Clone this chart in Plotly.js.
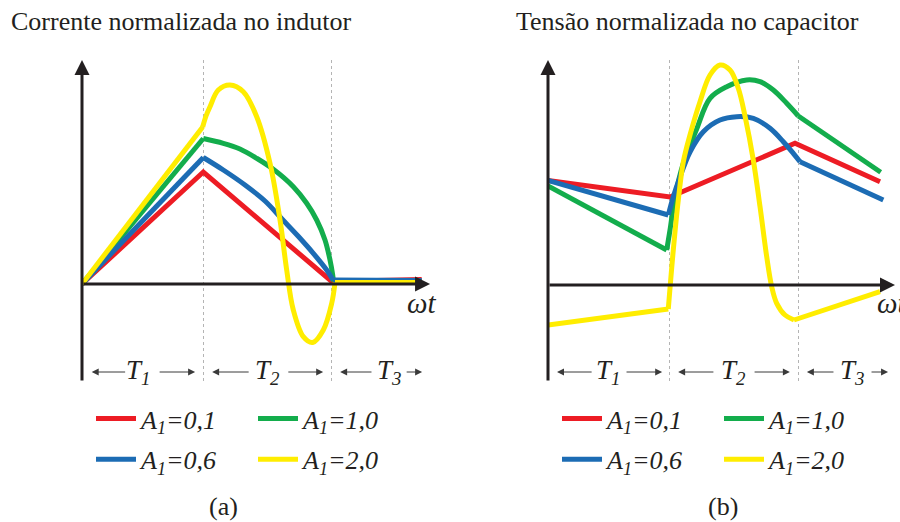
<!DOCTYPE html>
<html><head><meta charset="utf-8">
<script src="https://cdn.plot.ly/plotly-3.0.1.min.js"></script>
<style>html,body{margin:0;padding:0;background:#fff}#chart{width:900px;height:522px}</style>
</head><body>
<div id="chart"></div>
<script>
// ---------- series names / colours ----------
const seriesNames = ['<i>A<sub>1</sub>=0,1</i>', '<i>A<sub>1</sub>=0,6</i>', '<i>A<sub>1</sub>=1,0</i>', '<i>A<sub>1</sub>=2,0</i>'];
const seriesColors = ['#ED1C24', '#1C6CB4', '#13AD4C', '#FFED00'];

// interval boundaries (ωt) and labels
const boundsA = [3.5, 7.2];
const boundsB = [3.49, 7.23];
const intervalLabels = ['<i>T<sub>1</sub></i>', '<i>T<sub>2</sub></i>', '<i>T<sub>3</sub></i>'];
const labelXA = [1.62, 5.35, 8.87];
const labelXB = [1.73, 5.36, 8.76];
// arrow pairs [tail, head] for each interval label
const arrowsA = [[1.29, 0.28], [2.20, 3.27], [4.86, 3.76], [5.92, 6.97], [8.41, 7.46], [9.34, 9.83]];
const arrowsB = [[1.30, 0.26], [2.22, 3.29], [4.81, 3.75], [5.91, 6.97], [8.27, 7.46], [9.28, 9.80]];

// ---------- panel (a): normalised inductor current ----------
const aX_01 = [0, 3.506, 7.217, 9.818];
const aY_01 = [0, 1.12, 0.025, 0.045];
const aX_06 = [0, 3.506, null, 7.254, 9.818];
const aY_06 = [0, 1.265, null, 0.04, 0.035];
const aX_06c = [3.506, 4.084, 4.711, 5.289, 5.780, 6.243, 6.685, 7.072, 7.254];
const aY_06c = [1.265, 1.14, 0.99, 0.83, 0.65, 0.48, 0.307, 0.14, 0.04];
const aX_10 = [0, 3.506, null, 7.269, 9.818];
const aY_10 = [0, 1.455, null, 0.025, 0.025];
const aX_10c = [3.506, 4.084, 4.566, 5.049, 5.520, 6.108, 6.494, 6.783, 7.023, 7.168, 7.246, 7.269];
const aY_10c = [1.455, 1.407, 1.35, 1.257, 1.15, 0.973, 0.807, 0.64, 0.44, 0.24, 0.09, 0.025];
const aX_20 = [0, 3.488, null, 7.312, 9.818];
const aY_20 = [0, 1.57, null, 0.015, 0.015];
const aX_20c = [3.488, 3.584, 3.699, 3.939, 4.277, 4.662, 5.049, 5.434, 5.723, 5.916, 6.107, 6.396, 6.668, 6.974, 7.217, 7.312];
const aY_20c = [1.57, 1.68, 1.773, 1.94, 1.99, 1.923, 1.673, 1.207, 0.64, 0.14, -0.26, -0.527, -0.585, -0.46, -0.193, 0.015];

// ---------- panel (b): normalised capacitor voltage ----------
const bX_01 = [0, 3.516, 7.118, 9.568];
const bY_01 = [1.045, 0.88, 1.417, 1.033];
const bX_06 = [0, 3.467, null, 7.262, 9.663];
const bY_06 = [1.045, 0.70, null, 1.233, 0.85];
const bX_06c = [3.467, 3.611, 3.804, 4.092, 4.476, 4.957, 5.438, 5.916, 6.398, 6.781, 7.069, 7.262];
const bY_06c = [0.70, 0.883, 1.08, 1.33, 1.533, 1.65, 1.683, 1.667, 1.567, 1.433, 1.317, 1.233];
const bX_10 = [0, 3.421, null, 7.213, 9.588];
const bY_10 = [0.99, 0.35, null, 1.69, 1.127];
const bX_10c = [3.421, 3.516, 3.660, 3.899, 4.285, 4.669, 5.150, 5.726, 6.110, 6.493, 6.879, 7.213];
const bY_10c = [0.35, 0.55, 0.88, 1.217, 1.56, 1.867, 1.983, 2.05, 2.033, 1.95, 1.817, 1.69];
const bX_20 = [0, 3.467, null, 7.089, 9.568];
const bY_20 = [-0.40, -0.24, null, -0.35, -0.067];
const bX_20c = [3.467, 3.611, 3.755, 3.899, 4.092, 4.380, 4.669, 4.957, 5.245, 5.484, 5.677, 5.916, 6.110, 6.303, 6.447, 6.591, 6.830, 7.089];
const bY_20c = [-0.24, 0.35, 0.85, 1.23, 1.50, 1.833, 2.10, 2.20, 2.15, 1.967, 1.69, 1.25, 0.783, 0.283, -0.017, -0.183, -0.30, -0.35];

const SERIF = 'Liberation Serif';
const INK = '#231F20';

const panelA = [[aX_01, aY_01, null, null], [aX_06, aY_06, aX_06c, aY_06c], [aX_10, aY_10, aX_10c, aY_10c], [aX_20, aY_20, aX_20c, aY_20c]];
const panelB = [[bX_01, bY_01, null, null], [bX_06, bY_06, bX_06c, bY_06c], [bX_10, bY_10, bX_10c, bY_10c], [bX_20, bY_20, bX_20c, bY_20c]];
const drawOrder = [0, 2, 1, 3];
const legendCol = [0, 0, 1, 1];
const legendRank = [1, 2, 1, 2];

const traces = [];
[[panelA, 'x', 'y', ['legend', 'legend2']], [panelB, 'x2', 'y2', ['legend3', 'legend4']]].forEach(([panel, xa, ya, legs], p) => {
  drawOrder.forEach(i => {
    const s = panel[i];
    const common = {type: 'scatter', mode: 'lines', xaxis: xa, yaxis: ya, name: seriesNames[i],
      cliponaxis: false, legend: legs[legendCol[i]], legendrank: legendRank[i],
      legendgroup: 'g' + p + '_' + i, hoverinfo: 'skip'};
    traces.push(Object.assign({}, common, {x: s[0], y: s[1], connectgaps: false,
      line: {color: seriesColors[i], width: 5, shape: 'linear'}, showlegend: true}));
    if (s[2]) {
      traces.push(Object.assign({}, common, {x: s[2], y: s[3],
        line: {color: seriesColors[i], width: 5, shape: 'spline', smoothing: 1}, showlegend: false}));
    }
  });
});

const annotations = [];
function axisArrows(xa, ya, yBottom, yTop, xTip) {
  annotations.push({xref: xa, yref: ya, axref: xa, ayref: ya, x: 0, y: yTop, ax: 0, ay: yBottom,
    text: '', showarrow: true, arrowhead: 2, arrowsize: 1, arrowwidth: 3, arrowcolor: INK, standoff: 0, startstandoff: 0});
  annotations.push({xref: xa, yref: ya, axref: xa, ayref: ya, x: xTip, y: 0, ax: 0, ay: 0,
    text: '', showarrow: true, arrowhead: 2, arrowsize: 1, arrowwidth: 3, arrowcolor: INK, standoff: 0, startstandoff: 0});
}
function intervalMarks(xa, ya, labelX, arrows, yLev) {
  labelX.forEach((lx, k) => {
    annotations.push({xref: xa, yref: ya, x: lx, y: yLev, text: intervalLabels[k], showarrow: false,
      font: {family: SERIF, size: 27, color: INK}, xanchor: 'center', yanchor: 'middle'});
  });
  arrows.forEach(([tail, head]) => {
    annotations.push({xref: xa, yref: ya, axref: xa, ayref: ya, x: head, y: yLev, ax: tail, ay: yLev,
      text: '', showarrow: true, arrowhead: 2, arrowsize: 1.4, arrowwidth: 1, arrowcolor: '#3a3a3a', standoff: 0, startstandoff: 0});
  });
}
axisArrows('x', 'y', -0.98, 2.24, 10.06);
axisArrows('x2', 'y2', -0.97, 2.25, 10.0);
intervalMarks('x', 'y', labelXA, arrowsA, -0.88);
intervalMarks('x2', 'y2', labelXB, arrowsB, -0.87);

annotations.push({xref: 'paper', yref: 'paper', x: 9 / 900, y: 1 - 21 / 522, xanchor: 'left', yanchor: 'middle',
  text: 'Corrente normalizada no indutor', showarrow: false, font: {family: SERIF, size: 26, color: INK}});
annotations.push({xref: 'paper', yref: 'paper', x: 687 / 900, y: 1 - 21 / 522, xanchor: 'center', yanchor: 'middle',
  text: 'Tensão normalizada no capacitor', showarrow: false, font: {family: SERIF, size: 26, color: INK}});
annotations.push({xref: 'x', yref: 'y', x: 9.8, y: -0.19, xanchor: 'center', yanchor: 'middle',
  text: '<i>ωt</i>', showarrow: false, font: {family: SERIF, size: 29, color: INK}});
annotations.push({xref: 'x2', yref: 'y2', x: 9.42, y: -0.18, xanchor: 'left', yanchor: 'middle',
  text: '<i>ωt</i>', showarrow: false, font: {family: SERIF, size: 29, color: INK}});
annotations.push({xref: 'paper', yref: 'paper', x: 223 / 900, y: 1 - 506 / 522, xanchor: 'center', yanchor: 'middle',
  text: '(a)', showarrow: false, font: {family: SERIF, size: 26, color: INK}});
annotations.push({xref: 'paper', yref: 'paper', x: 723 / 900, y: 1 - 506 / 522, xanchor: 'center', yanchor: 'middle',
  text: '(b)', showarrow: false, font: {family: SERIF, size: 26, color: INK}});

const yDomain = [1 - 382 / 522, 1 - 60 / 522];
function xAxisCfg(domain, bounds, anchor) {
  return {domain: domain, range: [0, 10], anchor: anchor, tickmode: 'array', tickvals: bounds,
    showticklabels: false, ticks: '', showgrid: true, gridcolor: '#b4b4b4', gridwidth: 1, griddash: 'dot',
    zeroline: false, showline: false, fixedrange: true};
}
function yAxisCfg(range, anchor) {
  return {domain: yDomain, range: range, anchor: anchor, showgrid: false, zeroline: false, showline: false,
    showticklabels: false, ticks: '', fixedrange: true};
}
function legendCfg(xpx) {
  return {x: xpx / 900, y: 1 - 395 / 522, xanchor: 'left', yanchor: 'top', orientation: 'v',
    bgcolor: 'rgba(0,0,0,0)', borderwidth: 0, tracegroupgap: 4, itemwidth: 40, itemclick: false, itemdoubleclick: false,
    font: {family: SERIF, size: 26, color: INK}};
}

const layout = {
  width: 900, height: 522,
  margin: {l: 0, r: 0, t: 0, b: 0},
  paper_bgcolor: '#ffffff', plot_bgcolor: 'rgba(0,0,0,0)',
  showlegend: true,
  xaxis: xAxisCfg([82 / 900, 428 / 900], boundsA, 'y'),
  yaxis: yAxisCfg([-0.98, 2.24], 'x'),
  xaxis2: xAxisCfg([548 / 900, 895 / 900], boundsB, 'y2'),
  yaxis2: yAxisCfg([-0.97, 2.25], 'x2'),
  legend: legendCfg(91),
  legend2: legendCfg(253),
  legend3: legendCfg(557),
  legend4: legendCfg(719),
  annotations: annotations
};

Plotly.newPlot('chart', traces, layout, {staticPlot: true});
</script>
</body></html>
